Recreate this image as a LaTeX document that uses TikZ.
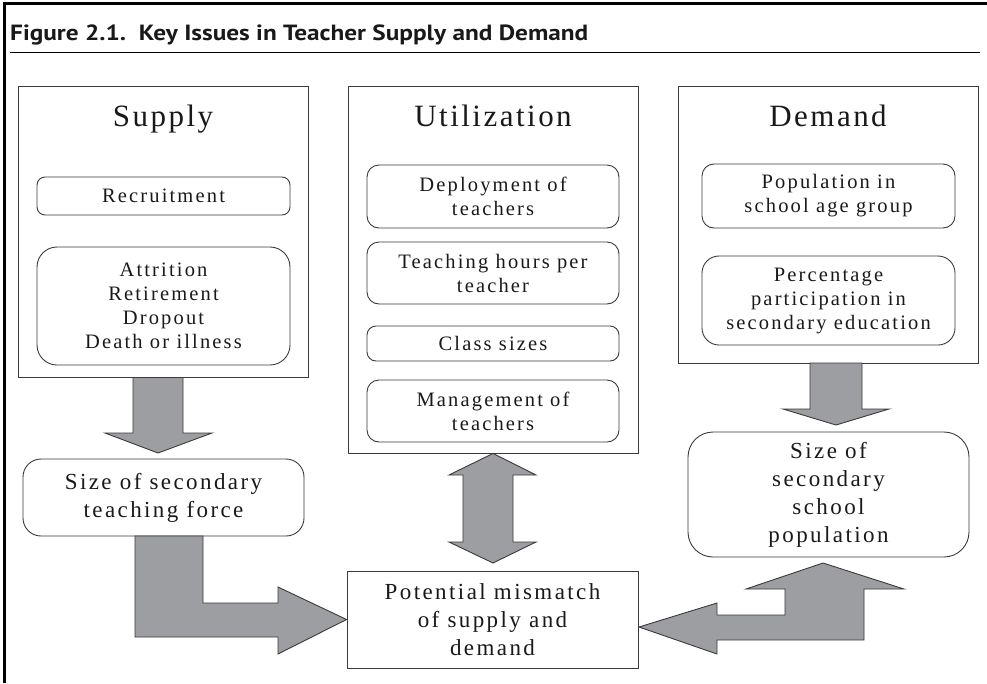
\documentclass[tikz,border=0pt]{standalone}
\usepackage{fontspec}
\usepackage{graphicx}
\setmainfont[LetterSpace=10.5]{Liberation Serif}
\newfontfamily\headfont[LetterSpace=8]{Liberation Serif}
\newfontfamily\titlefont{PT Sans Bold}
\usetikzlibrary{calc}
\definecolor{arrowgray}{RGB}{157,158,161}
\definecolor{edgegray}{RGB}{58,58,58}
\definecolor{txt}{RGB}{25,25,25}
\tikzset{
  x=1pt, y=-1pt,
  panel/.style={draw=edgegray, line width=0.9pt, inner sep=0pt, minimum width=#1},
  item/.style={draw=edgegray, line width=0.9pt, inner sep=0pt, align=center, text=txt,
    font=\fontsize{20.5}{24}\selectfont},
  midtext/.style={draw=edgegray, line width=0.9pt, inner sep=0pt, align=center, text=txt,
    font=\fontsize{23}{28}\selectfont},
  header/.style={anchor=base, text=txt, font=\headfont\fontsize{31}{36}\selectfont, inner sep=0pt},
  blockarrow/.style={fill=arrowgray, draw=edgegray, line width=0.9pt, line join=miter},
}
\begin{document}
\begin{tikzpicture}
\useasboundingbox (0,0) rectangle (987,683);
% frame
\draw[line width=3pt] (4,683) -- (4,3) -- (987,3);
\node[anchor=base west, inner sep=0pt, text=txt] (title) at (10,40)
  {\resizebox{578pt}{\height}{\titlefont\fontsize{22}{25}\selectfont Figure 2.1.\ \ Key Issues in Teacher Supply and Demand}};
\draw[line width=1pt] (10,52) -- (980,52);

% panels
\node[panel=290pt, minimum height=291pt] (supply) at (163,231.5) {};
\node[header] (supplyh) at (163,126) {Supply};
\node[item, minimum width=253pt, minimum height=38pt, rounded corners=8pt] (recr) at (163.5,196) {Recruitment};
\node[item, minimum width=253pt, minimum height=118pt, rounded corners=20pt] (attr) at (163.5,306)
  {Attrition\\Retirement\\Dropout\\Death or illness};

\node[panel=290pt, minimum height=367pt] (util) at (493,269.5) {};
\node[header] (utilh) at (493,126) {Utilization};
\node[item, minimum width=252pt, minimum height=63pt, rounded corners=12pt] (depl) at (493,196.5) {Deployment of\\teachers};
\node[item, minimum width=252pt, minimum height=62pt, rounded corners=12pt] (hours) at (493,273) {Teaching hours per\\teacher};
\node[item, minimum width=252pt, minimum height=35pt, rounded corners=9pt] (class) at (493,343.5) {Class sizes};
\node[item, minimum width=252pt, minimum height=62pt, rounded corners=12pt] (mgmt) at (493,411) {Management of\\teachers};

\node[panel=300pt, minimum height=277pt] (demand) at (828,224.5) {};
\node[header] (demandh) at (828,126) {Demand};
\node[item, minimum width=253pt, minimum height=64pt, rounded corners=12pt] (popu) at (828.5,196) {Population in\\school age group};
\node[item, minimum width=253pt, minimum height=89pt, rounded corners=17pt] (perc) at (828.5,300.5) {Percentage\\participation in\\secondary education};

% lower boxes
\node[midtext, minimum width=281pt, minimum height=77pt, rounded corners=18pt] (force) at (163.5,497.5) {Size of secondary\\teaching force};
\node[midtext, minimum width=291pt, minimum height=97pt] (mismatch) at (492.5,619.5) {Potential mismatch\\of supply and\\demand};
\node[midtext, minimum width=281pt, minimum height=125pt, rounded corners=25pt] (school) at (828.5,494.5) {Size of\\secondary\\school\\population};

% block arrows
\draw[blockarrow] ($(supply.south)+(-30,0)$) -- ($(supply.south)+(20,0)$) -- (183,433) -- (212,433)
  -- (158,453) -- (105,433) -- (133,433) -- cycle;
\draw[blockarrow] (135,536) -- (203,536) -- (203,603) -- (278,603) -- (278,587)
  -- (mismatch.west) -- (278,654) -- (278,637) -- (135,637) -- cycle;
\draw[blockarrow] (util.south) -- (536,475) -- (513,475) -- (513,542) -- (536,542) -- (493,563)
  -- (449,542) -- (463,542) -- (463,475) -- (449,475) -- cycle;
\draw[blockarrow] (810,363) -- (862,363) -- (862,409) -- (889,409) -- (836,425) -- (783,409) -- (810,409) -- cycle;
\draw[blockarrow] (823,563) -- (904,589) -- (864,589) -- (864,640) -- (717,640) -- (717,654)
  -- (639,627) -- (717,603) -- (717,615) -- (785,615) -- (785,589) -- (746,589) -- cycle;
\end{tikzpicture}
\end{document}
